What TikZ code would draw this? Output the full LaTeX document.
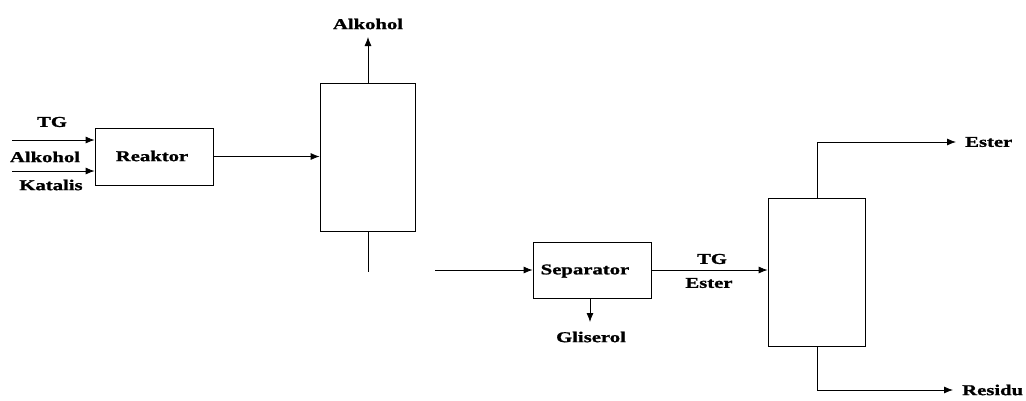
\documentclass[tikz,border=0pt]{standalone}
\usepackage{fontspec}
\setmainfont{Liberation Serif}
\newfontfamily\lblfont[FakeStretch=1.38,BoldFeatures={FakeBold=1.2}]{Liberation Serif}
\usetikzlibrary{arrows.meta,calc}
\begin{document}
\begin{tikzpicture}[x=1pt,y=-1pt,
  lbl/.style={font=\lblfont\bfseries\fontsize{15}{17}\selectfont, inner sep=0pt},
  unit/.style={draw, line width=0.8pt, inner sep=0pt},
  flow/.style={line width=0.8pt, -{Latex[length=9pt,width=7pt]}},
  pipe/.style={line width=0.8pt}]
\useasboundingbox (0,0) rectangle (1026,400);
% units
\node[unit, minimum width=118pt, minimum height=57pt] (reaktor) at (154,156.5) {};
\node[lbl] (reaktorlbl) at (152,156) {Reaktor};
\node[unit, minimum width=95pt, minimum height=148pt] (col1) at (367.5,157) {};
\node[unit, minimum width=118pt, minimum height=56pt] (sep) at (592,270) {};
\node[lbl] (seplbl) at (585,271) {Separator};
\node[unit, minimum width=97pt, minimum height=148pt] (col2) at (816.5,272) {};
% labels
\node[lbl] (tg1) at (52,122) {TG};
\node[lbl] (alk1) at (45,157) {Alkohol};
\node[lbl] (kat) at (51,185) {Katalis};
\node[lbl] (alk2) at (368,24) {Alkohol};
\node[lbl] (gli) at (591,337) {Gliserol};
\node[lbl] (tg2) at (712,259) {TG};
\node[lbl] (est1) at (709,283) {Ester};
\node[lbl, anchor=west] (est2) at (965,142) {Ester};
\node[lbl, anchor=west] (res) at (962,390) {Residu};
% feed coordinates
\coordinate (f1) at (12,140);
\coordinate (f2) at (12,171);
\draw[flow] (f1) -- (f1 -| reaktor.west);
\draw[flow] (f2) -- (f2 -| reaktor.west);
% reaktor to column 1
\draw[flow] (reaktor.east) -- (reaktor.east -| col1.west);
% alkohol out
\coordinate (c1top) at (368,83);
\draw[flow] (c1top) -- (368,37);
% column 1 bottom
\coordinate (c1bot) at (368,231);
\coordinate (c1end) at (368,272);
\draw[pipe] (c1bot) -- (c1end);
\coordinate (s0) at (435,270);
\draw[flow] (s0) -- (sep.west);
% gliserol
\coordinate (sepbot) at (590,298);
\draw[flow] (sepbot) -- (590,322);
% separator to column 2
\draw[flow] (sep.east) -- (sep.east -| col2.west);
% ester out
\coordinate (c2top) at (817,198);
\draw[flow] (c2top) |- ($(est2.west)+(-9,0)$);
\coordinate (c2bot) at (817,346);
\draw[flow] (c2bot) |- ($(res.west)+(-9,0)$);
\end{tikzpicture}
\end{document}
